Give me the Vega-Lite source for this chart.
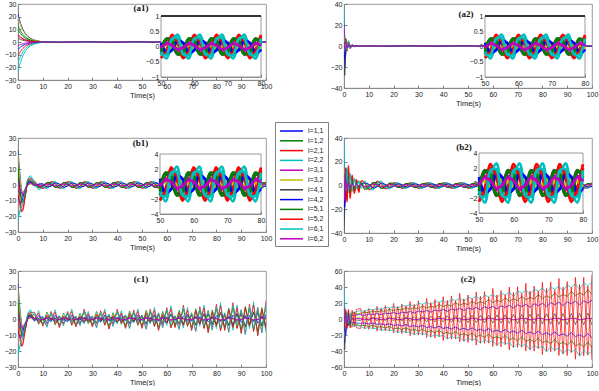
{
"$schema":"https://vega.github.io/schema/vega-lite/v6.json",
"padding":{"left":3,"top":-1,"right":0,"bottom":0},
"background":"white",
"config":{
 "view":{"stroke":"#808080","strokeWidth":0.8},
 "axis":{"labelFont":"Liberation Sans","labelFontSize":7,"labelColor":"#1a1a1a","titleFont":"Liberation Sans","titleFontSize":7.5,"titleFontWeight":"normal","titleColor":"#1a1a1a","titlePadding":2,"domainColor":"#808080","domainWidth":0.8,"tickColor":"#808080","tickSize":-3,"labelPadding":5,"grid":false,"labelFlush":false,"labelOverlap":false}
},
"datasets":{
"names":[{"n":1,"name":"i=1,1"},{"n":2,"name":"i=1,2"},{"n":3,"name":"i=2,1"},{"n":4,"name":"i=2,2"},{"n":5,"name":"i=3,1"},{"n":6,"name":"i=3,2"},{"n":7,"name":"i=4,1"},{"n":8,"name":"i=4,2"},{"n":9,"name":"i=5,1"},{"n":10,"name":"i=5,2"},{"n":11,"name":"i=6,1"},{"n":12,"name":"i=6,2"}],
"a1":[
{"t":0,"v":[22,13,-11,-24,6,20,3,-6,10,5,-17,-3]},
{"t":0.5,"v":[18,10.7,-9,-19.7,4.9,16.4,2.5,-4.9,8.2,4.1,-13.9,-2.5]},
{"t":1,"v":[14.7,8.7,-7.4,-16.1,4,13.4,2,-4,6.7,3.4,-11.4,-2]},
{"t":1.5,"v":[12.1,7.2,-6.1,-13.2,3.3,11,1.7,-3.3,5.5,2.8,-9.4,-1.7]},
{"t":2,"v":[9.9,5.9,-5,-10.8,2.7,9,1.4,-2.7,4.5,2.3,-7.7,-1.4]},
{"t":3,"v":[6.6,3.9,-3.3,-7.2,1.8,6,0.9,-1.8,3,1.5,-5.1,-0.9]},
{"t":4,"v":[4.4,2.6,-2.2,-4.8,1.2,4,0.6,-1.2,2,1,-3.4,-0.6]},
{"t":5,"v":[3,1.8,-1.5,-3.2,0.8,2.7,0.4,-0.8,1.4,0.7,-2.3,-0.4]},
{"t":6.5,"v":[1.6,1,-0.8,-1.8,0.4,1.5,0.2,-0.4,0.7,0.4,-1.3,-0.2]},
{"t":8,"v":[0.9,0.5,-0.4,-1,0.2,0.8,0.1,-0.2,0.4,0.2,-0.7,-0.1]},
{"t":10,"v":[0.07,-0.25,-0.38,-0.16,-0.02,0.08,-0.09,0.12,-0.17,-0.31,-0.26,-0.04]},
{"t":15,"v":[0.25,-0.21,0.1,0.39,-0.12,-0.03,-0.26,0.19,-0.25,0.18,0.27,-0.09]},
{"t":20,"v":[-0.07,0.25,0.38,0.16,0.02,-0.08,0.09,-0.12,0.17,0.31,0.26,0.04]},
{"t":25,"v":[-0.25,0.21,-0.1,-0.39,0.12,0.03,0.26,-0.19,0.25,-0.18,-0.27,0.09]},
{"t":30,"v":[0.07,-0.25,-0.38,-0.16,-0.02,0.08,-0.09,0.12,-0.17,-0.31,-0.26,-0.04]},
{"t":35,"v":[0.25,-0.21,0.1,0.39,-0.12,-0.03,-0.26,0.19,-0.25,0.18,0.27,-0.09]},
{"t":40,"v":[-0.07,0.25,0.38,0.16,0.02,-0.08,0.09,-0.12,0.17,0.31,0.26,0.04]},
{"t":45,"v":[-0.25,0.21,-0.1,-0.39,0.12,0.03,0.26,-0.19,0.25,-0.18,-0.27,0.09]},
{"t":50,"v":[0.07,-0.25,-0.38,-0.16,-0.02,0.08,-0.09,0.12,-0.17,-0.31,-0.26,-0.04]},
{"t":51.67,"v":[-0.25,0.21,-0.1,-0.39,0.12,0.03,0.26,-0.19,0.25,-0.18,-0.27,0.09]},
{"t":53.33,"v":[-0.07,0.25,0.38,0.16,0.02,-0.08,0.09,-0.12,0.17,0.31,0.26,0.04]},
{"t":55,"v":[0.25,-0.21,0.1,0.39,-0.12,-0.03,-0.26,0.19,-0.25,0.18,0.27,-0.09]},
{"t":56.67,"v":[0.07,-0.25,-0.38,-0.16,-0.02,0.08,-0.09,0.12,-0.17,-0.31,-0.26,-0.04]},
{"t":58.33,"v":[-0.25,0.21,-0.1,-0.39,0.12,0.03,0.26,-0.19,0.25,-0.18,-0.27,0.09]},
{"t":60,"v":[-0.07,0.25,0.38,0.16,0.02,-0.08,0.09,-0.12,0.17,0.31,0.26,0.04]},
{"t":61.67,"v":[0.25,-0.21,0.1,0.39,-0.12,-0.03,-0.26,0.19,-0.25,0.18,0.27,-0.09]},
{"t":63.33,"v":[0.07,-0.25,-0.38,-0.16,-0.02,0.08,-0.09,0.12,-0.17,-0.31,-0.26,-0.04]},
{"t":65,"v":[-0.25,0.21,-0.1,-0.39,0.12,0.03,0.26,-0.19,0.25,-0.18,-0.27,0.09]},
{"t":66.67,"v":[-0.07,0.25,0.38,0.16,0.02,-0.08,0.09,-0.12,0.17,0.31,0.26,0.04]},
{"t":68.33,"v":[0.25,-0.21,0.1,0.39,-0.12,-0.03,-0.26,0.19,-0.25,0.18,0.27,-0.09]},
{"t":70,"v":[0.07,-0.25,-0.38,-0.16,-0.02,0.08,-0.09,0.12,-0.17,-0.31,-0.26,-0.04]},
{"t":71.67,"v":[-0.25,0.21,-0.1,-0.39,0.12,0.03,0.26,-0.19,0.25,-0.18,-0.27,0.09]},
{"t":73.33,"v":[-0.07,0.25,0.38,0.16,0.02,-0.08,0.09,-0.12,0.17,0.31,0.26,0.04]},
{"t":75,"v":[0.25,-0.21,0.1,0.39,-0.12,-0.03,-0.26,0.19,-0.25,0.18,0.27,-0.09]},
{"t":76.67,"v":[0.07,-0.25,-0.38,-0.16,-0.02,0.08,-0.09,0.12,-0.17,-0.31,-0.26,-0.04]},
{"t":78.33,"v":[-0.25,0.21,-0.1,-0.39,0.12,0.03,0.26,-0.19,0.25,-0.18,-0.27,0.09]},
{"t":80,"v":[-0.07,0.25,0.38,0.16,0.02,-0.08,0.09,-0.12,0.17,0.31,0.26,0.04]},
{"t":85,"v":[-0.25,0.21,-0.1,-0.39,0.12,0.03,0.26,-0.19,0.25,-0.18,-0.27,0.09]},
{"t":90,"v":[0.07,-0.25,-0.38,-0.16,-0.02,0.08,-0.09,0.12,-0.17,-0.31,-0.26,-0.04]},
{"t":95,"v":[0.25,-0.21,0.1,0.39,-0.12,-0.03,-0.26,0.19,-0.25,0.18,0.27,-0.09]},
{"t":100,"v":[-0.07,0.25,0.38,0.16,0.02,-0.08,0.09,-0.12,0.17,0.31,0.26,0.04]}
],
"a2":[
{"t":0,"v":[-5,3,-2,38,22,-1,2,-6,4,1,10,-3]},
{"t":0.3,"v":[-20,5,1,10,8,1,-28,-12,5,4,4,2]},
{"t":0.7,"v":[-6,7,6,3,2,3,-8,-4,6,7,5,4]},
{"t":1.2,"v":[2,-3,-4,-2,-1,-1,1,1,-3,-5,-4,-2]},
{"t":1.8,"v":[1.5,4,4,3,1,1,0,-1,3,4,5,1.5]},
{"t":2.5,"v":[-1,-2,-2.5,-2,0,-0.5,0,0.5,-1.5,-2,-2,-0.5]},
{"t":3.3,"v":[0.5,1.2,1.5,1.5,0.3,0.4,0.3,-0.3,1,1.3,1.2,0.3]},
{"t":4.2,"v":[-0.2,-0.5,-0.6,-0.6,0,-0.2,0,0.2,-0.4,-0.5,-0.5,-0.1]},
{"t":5.5,"v":[0.1,0.2,0.2,0.2,0,0,0,0,0.1,0.2,0.2,0]},
{"t":10,"v":[0.07,-0.25,-0.38,-0.16,-0.02,0.08,-0.09,0.12,-0.17,-0.31,-0.26,-0.04]},
{"t":15,"v":[0.25,-0.21,0.1,0.39,-0.12,-0.03,-0.26,0.19,-0.25,0.18,0.27,-0.09]},
{"t":20,"v":[-0.07,0.25,0.38,0.16,0.02,-0.08,0.09,-0.12,0.17,0.31,0.26,0.04]},
{"t":25,"v":[-0.25,0.21,-0.1,-0.39,0.12,0.03,0.26,-0.19,0.25,-0.18,-0.27,0.09]},
{"t":30,"v":[0.07,-0.25,-0.38,-0.16,-0.02,0.08,-0.09,0.12,-0.17,-0.31,-0.26,-0.04]},
{"t":35,"v":[0.25,-0.21,0.1,0.39,-0.12,-0.03,-0.26,0.19,-0.25,0.18,0.27,-0.09]},
{"t":40,"v":[-0.07,0.25,0.38,0.16,0.02,-0.08,0.09,-0.12,0.17,0.31,0.26,0.04]},
{"t":45,"v":[-0.25,0.21,-0.1,-0.39,0.12,0.03,0.26,-0.19,0.25,-0.18,-0.27,0.09]},
{"t":50,"v":[0.07,-0.25,-0.38,-0.16,-0.02,0.08,-0.09,0.12,-0.17,-0.31,-0.26,-0.04]},
{"t":51.67,"v":[-0.25,0.21,-0.1,-0.39,0.12,0.03,0.26,-0.19,0.25,-0.18,-0.27,0.09]},
{"t":53.33,"v":[-0.07,0.25,0.38,0.16,0.02,-0.08,0.09,-0.12,0.17,0.31,0.26,0.04]},
{"t":55,"v":[0.25,-0.21,0.1,0.39,-0.12,-0.03,-0.26,0.19,-0.25,0.18,0.27,-0.09]},
{"t":56.67,"v":[0.07,-0.25,-0.38,-0.16,-0.02,0.08,-0.09,0.12,-0.17,-0.31,-0.26,-0.04]},
{"t":58.33,"v":[-0.25,0.21,-0.1,-0.39,0.12,0.03,0.26,-0.19,0.25,-0.18,-0.27,0.09]},
{"t":60,"v":[-0.07,0.25,0.38,0.16,0.02,-0.08,0.09,-0.12,0.17,0.31,0.26,0.04]},
{"t":61.67,"v":[0.25,-0.21,0.1,0.39,-0.12,-0.03,-0.26,0.19,-0.25,0.18,0.27,-0.09]},
{"t":63.33,"v":[0.07,-0.25,-0.38,-0.16,-0.02,0.08,-0.09,0.12,-0.17,-0.31,-0.26,-0.04]},
{"t":65,"v":[-0.25,0.21,-0.1,-0.39,0.12,0.03,0.26,-0.19,0.25,-0.18,-0.27,0.09]},
{"t":66.67,"v":[-0.07,0.25,0.38,0.16,0.02,-0.08,0.09,-0.12,0.17,0.31,0.26,0.04]},
{"t":68.33,"v":[0.25,-0.21,0.1,0.39,-0.12,-0.03,-0.26,0.19,-0.25,0.18,0.27,-0.09]},
{"t":70,"v":[0.07,-0.25,-0.38,-0.16,-0.02,0.08,-0.09,0.12,-0.17,-0.31,-0.26,-0.04]},
{"t":71.67,"v":[-0.25,0.21,-0.1,-0.39,0.12,0.03,0.26,-0.19,0.25,-0.18,-0.27,0.09]},
{"t":73.33,"v":[-0.07,0.25,0.38,0.16,0.02,-0.08,0.09,-0.12,0.17,0.31,0.26,0.04]},
{"t":75,"v":[0.25,-0.21,0.1,0.39,-0.12,-0.03,-0.26,0.19,-0.25,0.18,0.27,-0.09]},
{"t":76.67,"v":[0.07,-0.25,-0.38,-0.16,-0.02,0.08,-0.09,0.12,-0.17,-0.31,-0.26,-0.04]},
{"t":78.33,"v":[-0.25,0.21,-0.1,-0.39,0.12,0.03,0.26,-0.19,0.25,-0.18,-0.27,0.09]},
{"t":80,"v":[-0.07,0.25,0.38,0.16,0.02,-0.08,0.09,-0.12,0.17,0.31,0.26,0.04]},
{"t":85,"v":[-0.25,0.21,-0.1,-0.39,0.12,0.03,0.26,-0.19,0.25,-0.18,-0.27,0.09]},
{"t":90,"v":[0.07,-0.25,-0.38,-0.16,-0.02,0.08,-0.09,0.12,-0.17,-0.31,-0.26,-0.04]},
{"t":95,"v":[0.25,-0.21,0.1,0.39,-0.12,-0.03,-0.26,0.19,-0.25,0.18,0.27,-0.09]},
{"t":100,"v":[-0.07,0.25,0.38,0.16,0.02,-0.08,0.09,-0.12,0.17,0.31,0.26,0.04]}
],
"b1":[
{"t":0,"v":[22,14,5,-24,4,20,-3,-7,10,-6,-20,2]},
{"t":0.5,"v":[12,4,-4,-18,0,10,-5,-10,2,-10,-19,-1]},
{"t":1,"v":[3,-5,-12,-15,-4,2,-7,-12,-5,-15,-16,-4]},
{"t":1.5,"v":[-4,-10,-17,-14,-6,-3,-8,-11,-10,-17,-13,-5]},
{"t":2,"v":[-7,-11,-16,-11,-6,-5,-7,-8,-11,-15,-10,-5]},
{"t":3,"v":[-5,-6,-6,-4,-3,-3,-4,-3,-6,-6,-3,-2]},
{"t":4,"v":[1,2,2,3,0,0,1,1,2,3,4,0]},
{"t":5,"v":[2.5,2,4,6,1,0.5,2,2,3,4,5,1]},
{"t":6.67,"v":[0,1.5,2.5,1,0.1,-0.5,0.5,-0.5,1,2,1.5,0.3]},
{"t":8.33,"v":[0.5,-1.5,-0.5,-1.5,-0.7,-0.2,-1.5,0.5,-1.8,-0.5,-3,-0.5]},
{"t":10,"v":[0.4,-1.5,-2.2,-0.9,-0.1,0.5,-0.5,0.7,-1,-1.8,-1.5,-0.3]},
{"t":11.67,"v":[-1.4,1.2,-0.6,-2.3,0.7,0.2,1.5,-1.1,1.5,-1.1,-1.6,0.5]},
{"t":13.33,"v":[-0.4,1.5,2.2,0.9,0.1,-0.5,0.5,-0.7,1,1.8,1.5,0.3]},
{"t":15,"v":[1.4,-1.2,0.6,2.3,-0.7,-0.2,-1.5,1.1,-1.5,1.1,1.6,-0.5]},
{"t":16.67,"v":[0.4,-1.5,-2.2,-0.9,-0.1,0.5,-0.5,0.7,-1,-1.8,-1.5,-0.3]},
{"t":18.33,"v":[-1.4,1.2,-0.6,-2.3,0.7,0.2,1.5,-1.1,1.5,-1.1,-1.6,0.5]},
{"t":20,"v":[-0.4,1.5,2.2,0.9,0.1,-0.5,0.5,-0.7,1,1.8,1.5,0.3]},
{"t":21.67,"v":[1.4,-1.2,0.6,2.3,-0.7,-0.2,-1.5,1.1,-1.5,1.1,1.6,-0.5]},
{"t":23.33,"v":[0.4,-1.5,-2.2,-0.9,-0.1,0.5,-0.5,0.7,-1,-1.8,-1.5,-0.3]},
{"t":25,"v":[-1.4,1.2,-0.6,-2.3,0.7,0.2,1.5,-1.1,1.5,-1.1,-1.6,0.5]},
{"t":26.67,"v":[-0.4,1.5,2.2,0.9,0.1,-0.5,0.5,-0.7,1,1.8,1.5,0.3]},
{"t":28.33,"v":[1.4,-1.2,0.6,2.3,-0.7,-0.2,-1.5,1.1,-1.5,1.1,1.6,-0.5]},
{"t":30,"v":[0.4,-1.5,-2.2,-0.9,-0.1,0.5,-0.5,0.7,-1,-1.8,-1.5,-0.3]},
{"t":31.67,"v":[-1.4,1.2,-0.6,-2.3,0.7,0.2,1.5,-1.1,1.5,-1.1,-1.6,0.5]},
{"t":33.33,"v":[-0.4,1.5,2.2,0.9,0.1,-0.5,0.5,-0.7,1,1.8,1.5,0.3]},
{"t":35,"v":[1.4,-1.2,0.6,2.3,-0.7,-0.2,-1.5,1.1,-1.5,1.1,1.6,-0.5]},
{"t":36.67,"v":[0.4,-1.5,-2.2,-0.9,-0.1,0.5,-0.5,0.7,-1,-1.8,-1.5,-0.3]},
{"t":38.33,"v":[-1.4,1.2,-0.6,-2.3,0.7,0.2,1.5,-1.1,1.5,-1.1,-1.6,0.5]},
{"t":40,"v":[-0.4,1.5,2.2,0.9,0.1,-0.5,0.5,-0.7,1,1.8,1.5,0.3]},
{"t":41.67,"v":[1.4,-1.2,0.6,2.3,-0.7,-0.2,-1.5,1.1,-1.5,1.1,1.6,-0.5]},
{"t":43.33,"v":[0.4,-1.5,-2.2,-0.9,-0.1,0.5,-0.5,0.7,-1,-1.8,-1.5,-0.3]},
{"t":45,"v":[-1.4,1.2,-0.6,-2.3,0.7,0.2,1.5,-1.1,1.5,-1.1,-1.6,0.5]},
{"t":46.67,"v":[-0.4,1.5,2.2,0.9,0.1,-0.5,0.5,-0.7,1,1.8,1.5,0.3]},
{"t":48.33,"v":[1.4,-1.2,0.6,2.3,-0.7,-0.2,-1.5,1.1,-1.5,1.1,1.6,-0.5]},
{"t":50,"v":[0.4,-1.5,-2.2,-0.9,-0.1,0.5,-0.5,0.7,-1,-1.8,-1.5,-0.3]},
{"t":51.67,"v":[-1.4,1.2,-0.6,-2.3,0.7,0.2,1.5,-1.1,1.5,-1.1,-1.6,0.5]},
{"t":53.33,"v":[-0.4,1.5,2.2,0.9,0.1,-0.5,0.5,-0.7,1,1.8,1.5,0.3]},
{"t":55,"v":[1.4,-1.2,0.6,2.3,-0.7,-0.2,-1.5,1.1,-1.5,1.1,1.6,-0.5]},
{"t":56.67,"v":[0.4,-1.5,-2.2,-0.9,-0.1,0.5,-0.5,0.7,-1,-1.8,-1.5,-0.3]},
{"t":58.33,"v":[-1.4,1.2,-0.6,-2.3,0.7,0.2,1.5,-1.1,1.5,-1.1,-1.6,0.5]},
{"t":60,"v":[-0.4,1.5,2.2,0.9,0.1,-0.5,0.5,-0.7,1,1.8,1.5,0.3]},
{"t":61.67,"v":[1.4,-1.2,0.6,2.3,-0.7,-0.2,-1.5,1.1,-1.5,1.1,1.6,-0.5]},
{"t":63.33,"v":[0.4,-1.5,-2.2,-0.9,-0.1,0.5,-0.5,0.7,-1,-1.8,-1.5,-0.3]},
{"t":65,"v":[-1.4,1.2,-0.6,-2.3,0.7,0.2,1.5,-1.1,1.5,-1.1,-1.6,0.5]},
{"t":66.67,"v":[-0.4,1.5,2.2,0.9,0.1,-0.5,0.5,-0.7,1,1.8,1.5,0.3]},
{"t":68.33,"v":[1.4,-1.2,0.6,2.3,-0.7,-0.2,-1.5,1.1,-1.5,1.1,1.6,-0.5]},
{"t":70,"v":[0.4,-1.5,-2.2,-0.9,-0.1,0.5,-0.5,0.7,-1,-1.8,-1.5,-0.3]},
{"t":71.67,"v":[-1.4,1.2,-0.6,-2.3,0.7,0.2,1.5,-1.1,1.5,-1.1,-1.6,0.5]},
{"t":73.33,"v":[-0.4,1.5,2.2,0.9,0.1,-0.5,0.5,-0.7,1,1.8,1.5,0.3]},
{"t":75,"v":[1.4,-1.2,0.6,2.3,-0.7,-0.2,-1.5,1.1,-1.5,1.1,1.6,-0.5]},
{"t":76.67,"v":[0.4,-1.5,-2.2,-0.9,-0.1,0.5,-0.5,0.7,-1,-1.8,-1.5,-0.3]},
{"t":78.33,"v":[-1.4,1.2,-0.6,-2.3,0.7,0.2,1.5,-1.1,1.5,-1.1,-1.6,0.5]},
{"t":80,"v":[-0.4,1.5,2.2,0.9,0.1,-0.5,0.5,-0.7,1,1.8,1.5,0.3]},
{"t":81.67,"v":[1.4,-1.2,0.6,2.3,-0.7,-0.2,-1.5,1.1,-1.5,1.1,1.6,-0.5]},
{"t":83.33,"v":[0.4,-1.5,-2.2,-0.9,-0.1,0.5,-0.5,0.7,-1,-1.8,-1.5,-0.3]},
{"t":85,"v":[-1.4,1.2,-0.6,-2.3,0.7,0.2,1.5,-1.1,1.5,-1.1,-1.6,0.5]},
{"t":86.67,"v":[-0.4,1.5,2.2,0.9,0.1,-0.5,0.5,-0.7,1,1.8,1.5,0.3]},
{"t":88.33,"v":[1.4,-1.2,0.6,2.3,-0.7,-0.2,-1.5,1.1,-1.5,1.1,1.6,-0.5]},
{"t":90,"v":[0.4,-1.5,-2.2,-0.9,-0.1,0.5,-0.5,0.7,-1,-1.8,-1.5,-0.3]},
{"t":91.67,"v":[-1.4,1.2,-0.6,-2.3,0.7,0.2,1.5,-1.1,1.5,-1.1,-1.6,0.5]},
{"t":93.33,"v":[-0.4,1.5,2.2,0.9,0.1,-0.5,0.5,-0.7,1,1.8,1.5,0.3]},
{"t":95,"v":[1.4,-1.2,0.6,2.3,-0.7,-0.2,-1.5,1.1,-1.5,1.1,1.6,-0.5]},
{"t":96.67,"v":[0.4,-1.5,-2.2,-0.9,-0.1,0.5,-0.5,0.7,-1,-1.8,-1.5,-0.3]},
{"t":98.33,"v":[-1.4,1.2,-0.6,-2.3,0.7,0.2,1.5,-1.1,1.5,-1.1,-1.6,0.5]},
{"t":100,"v":[-0.4,1.5,2.2,0.9,0.1,-0.5,0.5,-0.7,1,1.8,1.5,0.3]}
],
"b2":[
{"t":0,"v":[-30,8,2,40,20,0,-38,-10,5,-5,25,10]},
{"t":0.3,"v":[-10,-12,-8,10,-15,-3,-20,-18,-5,-10,5,-12]},
{"t":0.7,"v":[5,10,14,-8,5,4,6,8,12,15,-5,6]},
{"t":1.2,"v":[-6,-9,-12,15,-4,-2,-5,-5,-10,-14,12,-3]},
{"t":1.8,"v":[4,12,17,-6,3,2,4,3,8,14,-4,2]},
{"t":2.5,"v":[-3,-7,-10,10,-2,-1,-2,-3,-6,-11,8,-2]},
{"t":3.3,"v":[2,6,9,-5,2,1,2,2,5,8,-3,1]},
{"t":4.2,"v":[-2,-5,-7,6,-1,-1,-2,-1,-4,-6,5,-1]},
{"t":5,"v":[1,4,5,-3,1,0.5,1,1,3,5,-2,1]},
{"t":6,"v":[-1,-4,-6,4,-1,0,-1,-1,-3,-5,4,-0.5]},
{"t":7,"v":[1,3,4,-2,0.5,0.3,1,1,2,4,-2,0.4]},
{"t":8.33,"v":[2,-3,2,4,-1,-0.3,-2,2,-3,2.5,3,-1]},
{"t":10,"v":[0.7,-2.4,-3.7,-1.5,-0.2,0.8,-0.8,1.1,-1.7,-3,-2.5,-0.5]},
{"t":11.67,"v":[-2.3,2,-0.9,-3.8,1.3,0.3,2.5,-1.8,2.4,-1.7,-2.6,1]},
{"t":13.33,"v":[-0.7,2.4,3.7,1.5,0.2,-0.8,0.8,-1.1,1.7,3,2.5,0.5]},
{"t":15,"v":[2.3,-2,0.9,3.8,-1.3,-0.3,-2.5,1.8,-2.4,1.7,2.6,-1]},
{"t":16.67,"v":[0.5,-1.9,-2.9,-1.2,-0.2,0.6,-0.7,0.9,-1.3,-2.4,-2,-0.4]},
{"t":18.33,"v":[-1.9,1.6,-0.7,-3.1,1,0.2,2,-1.4,1.9,-1.4,-2.1,0.8]},
{"t":20,"v":[-0.5,1.6,2.5,1,0.2,-0.5,0.6,-0.8,1.1,2,1.7,0.3]},
{"t":21.67,"v":[1.6,-1.4,0.6,2.6,-0.9,-0.2,-1.7,1.2,-1.6,1.2,1.8,-0.7]},
{"t":23.33,"v":[0.5,-1.6,-2.5,-1,-0.2,0.5,-0.6,0.8,-1.1,-2,-1.7,-0.3]},
{"t":25,"v":[-1.6,1.4,-0.6,-2.6,0.9,0.2,1.7,-1.2,1.6,-1.2,-1.8,0.7]},
{"t":26.67,"v":[-0.5,1.6,2.5,1,0.2,-0.5,0.6,-0.8,1.1,2,1.7,0.3]},
{"t":28.33,"v":[1.6,-1.4,0.6,2.6,-0.9,-0.2,-1.7,1.2,-1.6,1.2,1.8,-0.7]},
{"t":30,"v":[0.5,-1.6,-2.5,-1,-0.2,0.5,-0.6,0.8,-1.1,-2,-1.7,-0.3]},
{"t":31.67,"v":[-1.6,1.4,-0.6,-2.6,0.9,0.2,1.7,-1.2,1.6,-1.2,-1.8,0.7]},
{"t":33.33,"v":[-0.5,1.6,2.5,1,0.2,-0.5,0.6,-0.8,1.1,2,1.7,0.3]},
{"t":35,"v":[1.6,-1.4,0.6,2.6,-0.9,-0.2,-1.7,1.2,-1.6,1.2,1.8,-0.7]},
{"t":36.67,"v":[0.5,-1.6,-2.5,-1,-0.2,0.5,-0.6,0.8,-1.1,-2,-1.7,-0.3]},
{"t":38.33,"v":[-1.6,1.4,-0.6,-2.6,0.9,0.2,1.7,-1.2,1.6,-1.2,-1.8,0.7]},
{"t":40,"v":[-0.5,1.6,2.5,1,0.2,-0.5,0.6,-0.8,1.1,2,1.7,0.3]},
{"t":41.67,"v":[1.6,-1.4,0.6,2.6,-0.9,-0.2,-1.7,1.2,-1.6,1.2,1.8,-0.7]},
{"t":43.33,"v":[0.5,-1.6,-2.5,-1,-0.2,0.5,-0.6,0.8,-1.1,-2,-1.7,-0.3]},
{"t":45,"v":[-1.6,1.4,-0.6,-2.6,0.9,0.2,1.7,-1.2,1.6,-1.2,-1.8,0.7]},
{"t":46.67,"v":[-0.5,1.6,2.5,1,0.2,-0.5,0.6,-0.8,1.1,2,1.7,0.3]},
{"t":48.33,"v":[1.6,-1.4,0.6,2.6,-0.9,-0.2,-1.7,1.2,-1.6,1.2,1.8,-0.7]},
{"t":50,"v":[0.5,-1.6,-2.5,-1,-0.2,0.5,-0.6,0.8,-1.1,-2,-1.7,-0.3]},
{"t":51.67,"v":[-1.6,1.4,-0.6,-2.6,0.9,0.2,1.7,-1.2,1.6,-1.2,-1.8,0.7]},
{"t":53.33,"v":[-0.5,1.6,2.5,1,0.2,-0.5,0.6,-0.8,1.1,2,1.7,0.3]},
{"t":55,"v":[1.6,-1.4,0.6,2.6,-0.9,-0.2,-1.7,1.2,-1.6,1.2,1.8,-0.7]},
{"t":56.67,"v":[0.5,-1.6,-2.5,-1,-0.2,0.5,-0.6,0.8,-1.1,-2,-1.7,-0.3]},
{"t":58.33,"v":[-1.6,1.4,-0.6,-2.6,0.9,0.2,1.7,-1.2,1.6,-1.2,-1.8,0.7]},
{"t":60,"v":[-0.5,1.6,2.5,1,0.2,-0.5,0.6,-0.8,1.1,2,1.7,0.3]},
{"t":61.67,"v":[1.6,-1.4,0.6,2.6,-0.9,-0.2,-1.7,1.2,-1.6,1.2,1.8,-0.7]},
{"t":63.33,"v":[0.5,-1.6,-2.5,-1,-0.2,0.5,-0.6,0.8,-1.1,-2,-1.7,-0.3]},
{"t":65,"v":[-1.6,1.4,-0.6,-2.6,0.9,0.2,1.7,-1.2,1.6,-1.2,-1.8,0.7]},
{"t":66.67,"v":[-0.5,1.6,2.5,1,0.2,-0.5,0.6,-0.8,1.1,2,1.7,0.3]},
{"t":68.33,"v":[1.6,-1.4,0.6,2.6,-0.9,-0.2,-1.7,1.2,-1.6,1.2,1.8,-0.7]},
{"t":70,"v":[0.5,-1.6,-2.5,-1,-0.2,0.5,-0.6,0.8,-1.1,-2,-1.7,-0.3]},
{"t":71.67,"v":[-1.6,1.4,-0.6,-2.6,0.9,0.2,1.7,-1.2,1.6,-1.2,-1.8,0.7]},
{"t":73.33,"v":[-0.5,1.6,2.5,1,0.2,-0.5,0.6,-0.8,1.1,2,1.7,0.3]},
{"t":75,"v":[1.6,-1.4,0.6,2.6,-0.9,-0.2,-1.7,1.2,-1.6,1.2,1.8,-0.7]},
{"t":76.67,"v":[0.5,-1.6,-2.5,-1,-0.2,0.5,-0.6,0.8,-1.1,-2,-1.7,-0.3]},
{"t":78.33,"v":[-1.6,1.4,-0.6,-2.6,0.9,0.2,1.7,-1.2,1.6,-1.2,-1.8,0.7]},
{"t":80,"v":[-0.5,1.6,2.5,1,0.2,-0.5,0.6,-0.8,1.1,2,1.7,0.3]},
{"t":81.67,"v":[1.6,-1.4,0.6,2.6,-0.9,-0.2,-1.7,1.2,-1.6,1.2,1.8,-0.7]},
{"t":83.33,"v":[0.5,-1.6,-2.5,-1,-0.2,0.5,-0.6,0.8,-1.1,-2,-1.7,-0.3]},
{"t":85,"v":[-1.6,1.4,-0.6,-2.6,0.9,0.2,1.7,-1.2,1.6,-1.2,-1.8,0.7]},
{"t":86.67,"v":[-0.5,1.6,2.5,1,0.2,-0.5,0.6,-0.8,1.1,2,1.7,0.3]},
{"t":88.33,"v":[1.6,-1.4,0.6,2.6,-0.9,-0.2,-1.7,1.2,-1.6,1.2,1.8,-0.7]},
{"t":90,"v":[0.5,-1.6,-2.5,-1,-0.2,0.5,-0.6,0.8,-1.1,-2,-1.7,-0.3]},
{"t":91.67,"v":[-1.6,1.4,-0.6,-2.6,0.9,0.2,1.7,-1.2,1.6,-1.2,-1.8,0.7]},
{"t":93.33,"v":[-0.5,1.6,2.5,1,0.2,-0.5,0.6,-0.8,1.1,2,1.7,0.3]},
{"t":95,"v":[1.6,-1.4,0.6,2.6,-0.9,-0.2,-1.7,1.2,-1.6,1.2,1.8,-0.7]},
{"t":96.67,"v":[0.5,-1.6,-2.5,-1,-0.2,0.5,-0.6,0.8,-1.1,-2,-1.7,-0.3]},
{"t":98.33,"v":[-1.6,1.4,-0.6,-2.6,0.9,0.2,1.7,-1.2,1.6,-1.2,-1.8,0.7]},
{"t":100,"v":[-0.5,1.6,2.5,1,0.2,-0.5,0.6,-0.8,1.1,2,1.7,0.3]}
],
"c1":[
{"t":0,"v":[22,14,5,-24,4,20,-3,-7,10,-6,-20,2]},
{"t":0.5,"v":[12,4,-4,-18,0,10,-5,-10,2,-10,-19,-1]},
{"t":1,"v":[3,-5,-12,-15,-4,2,-7,-12,-5,-15,-16,-4]},
{"t":1.5,"v":[-4,-10,-17,-14,-6,-3,-8,-11,-10,-17,-13,-5]},
{"t":2,"v":[-7,-11,-16,-11,-6,-5,-7,-8,-11,-15,-10,-5]},
{"t":3,"v":[-5,-6,-6,-4,-3,-3,-4,-3,-6,-6,-3,-2]},
{"t":4,"v":[1,2,2,3,0,0,1,1,2,3,4,0]},
{"t":5,"v":[2.5,2,4,6,1,0.5,2,2,3,4,5,1]},
{"t":6.67,"v":[0.3,2.9,4.2,-1.1,0.1,-0.5,0.5,-1.4,-0.4,0,3.3,0.3]},
{"t":8.33,"v":[0.4,-3.3,-2.4,5.3,-0.7,-0.2,-1.5,2.2,0.6,3.8,-1.1,-0.5]},
{"t":10,"v":[1.5,0.6,0.8,-3.9,-0.1,0.5,-0.5,-0.4,-3.1,-4.5,1.2,-0.3]},
{"t":11.67,"v":[-2.8,-1.6,-4.6,1.7,0.7,0.2,1.5,0.3,4.3,2.5,-5.2,0.5]},
{"t":13.33,"v":[0.5,3.3,4.7,-1.6,0.1,-0.5,0.5,-1.6,-0.8,-0.5,3.8,0.3]},
{"t":15,"v":[0.2,-3.7,-2.9,5.8,-0.7,-0.2,-1.5,2.3,1,4.3,-1.6,-0.5]},
{"t":16.67,"v":[1.8,1.3,1.8,-4.9,-0.1,0.5,-0.5,-0.7,-3.8,-5.4,2.1,-0.3]},
{"t":18.33,"v":[-2.5,-0.9,-3.6,0.7,0.7,0.2,1.5,0,3.6,1.6,-4.3,0.5]},
{"t":20,"v":[0.5,3.3,4.7,-1.6,0.1,-0.5,0.5,-1.6,-0.8,-0.5,3.8,0.3]},
{"t":21.67,"v":[0,-4,-3.4,6.3,-0.7,-0.2,-1.5,2.5,1.3,4.7,-2,-0.5]},
{"t":23.33,"v":[1.6,1,1.3,-4.4,-0.1,0.5,-0.5,-0.5,-3.5,-5,1.7,-0.3]},
{"t":25,"v":[-2.5,-0.9,-3.6,0.7,0.7,0.2,1.5,0,3.6,1.6,-4.3,0.5]},
{"t":26.67,"v":[1,4.3,6.2,-3.1,0.1,-0.5,0.5,-2.1,-1.8,-1.8,5.1,0.3]},
{"t":28.33,"v":[0.5,-3,-1.9,4.8,-0.7,-0.2,-1.5,2,0.3,3.4,-0.7,-0.5]},
{"t":30,"v":[1.6,1,1.3,-4.4,-0.1,0.5,-0.5,-0.5,-3.5,-5,1.7,-0.3]},
{"t":31.67,"v":[-3,-2,-5.1,2.2,0.7,0.2,1.5,0.5,4.7,3,-5.7,0.5]},
{"t":33.33,"v":[0.7,3.6,5.2,-2.1,0.1,-0.5,0.5,-1.8,-1.1,-0.9,4.2,0.3]},
{"t":35,"v":[0,-4,-3.4,6.3,-0.7,-0.2,-1.5,2.5,1.3,4.7,-2,-0.5]},
{"t":36.67,"v":[2.2,2,2.8,-5.9,-0.1,0.5,-0.5,-1.1,-4.5,-6.3,3,-0.3]},
{"t":38.33,"v":[-2.6,-1.3,-4.1,1.2,0.7,0.2,1.5,0.1,4,2.1,-4.8,0.5]},
{"t":40,"v":[1,4.3,6.2,-3.1,0.1,-0.5,0.5,-2.1,-1.8,-1.8,5.1,0.3]},
{"t":41.67,"v":[0.4,-3.3,-2.4,5.3,-0.7,-0.2,-1.5,2.2,0.6,3.8,-1.1,-0.5]},
{"t":43.33,"v":[2,1.7,2.3,-5.4,-0.1,0.5,-0.5,-0.9,-4.2,-5.9,2.6,-0.3]},
{"t":45,"v":[-3.2,-2.3,-5.6,2.7,0.7,0.2,1.5,0.7,5,3.4,-6.1,0.5]},
{"t":46.67,"v":[0.8,4,5.7,-2.6,0.1,-0.5,0.5,-1.9,-1.5,-1.4,4.7,0.3]},
{"t":48.33,"v":[0,-4,-3.4,6.3,-0.7,-0.2,-1.5,2.5,1.3,4.7,-2,-0.5]},
{"t":50,"v":[2,1.7,2.3,-5.4,-0.1,0.5,-0.5,-0.9,-4.2,-5.9,2.6,-0.3]},
{"t":51.67,"v":[-3.3,-2.7,-6.1,3.2,0.7,0.2,1.5,0.8,5.4,3.9,-6.6,0.5]},
{"t":53.33,"v":[1,4.3,6.2,-3.1,0.1,-0.5,0.5,-2.1,-1.8,-1.8,5.1,0.3]},
{"t":55,"v":[-0.4,-4.7,-4.4,7.3,-0.7,-0.2,-1.5,2.9,2,5.6,-2.9,-0.5]},
{"t":56.67,"v":[2.5,2.7,3.8,-6.9,-0.1,0.5,-0.5,-1.4,-5.2,-7.2,3.9,-0.3]},
{"t":58.33,"v":[-3,-2,-5.1,2.2,0.7,0.2,1.5,0.5,4.7,3,-5.7,0.5]},
{"t":60,"v":[1.4,5,7.2,-4.1,0.1,-0.5,0.5,-2.5,-2.5,-2.7,6,0.3]},
{"t":61.67,"v":[-0.7,-5.4,-5.4,8.3,-0.7,-0.2,-1.5,3.2,2.7,6.5,-3.8,-0.5]},
{"t":63.33,"v":[1.8,1.3,1.8,-4.9,-0.1,0.5,-0.5,-0.7,-3.8,-5.4,2.1,-0.3]},
{"t":65,"v":[-3.3,-2.7,-6.1,3.2,0.7,0.2,1.5,0.8,5.4,3.9,-6.6,0.5]},
{"t":66.67,"v":[1.9,6.1,8.7,-5.6,0.1,-0.5,0.5,-3,-3.6,-4.1,7.4,0.3]},
{"t":68.33,"v":[-0.4,-4.7,-4.4,7.3,-0.7,-0.2,-1.5,2.9,2,5.6,-2.9,-0.5]},
{"t":70,"v":[2.5,2.7,3.8,-6.9,-0.1,0.5,-0.5,-1.4,-5.2,-7.2,3.9,-0.3]},
{"t":71.67,"v":[-3.9,-3.7,-7.6,4.7,0.7,0.2,1.5,1.4,6.4,5.2,-7.9,0.5]},
{"t":73.33,"v":[1.5,5.4,7.7,-4.6,0.1,-0.5,0.5,-2.6,-2.9,-3.2,6.5,0.3]},
{"t":75,"v":[-0.9,-5.8,-5.9,8.8,-0.7,-0.2,-1.5,3.4,3.1,7,-4.3,-0.5]},
{"t":76.67,"v":[3,3.8,5.3,-8.4,-0.1,0.5,-0.5,-1.9,-6.3,-8.6,5.3,-0.3]},
{"t":78.33,"v":[-3.5,-3,-6.6,3.7,0.7,0.2,1.5,1,5.7,4.3,-7,0.5]},
{"t":80,"v":[2.1,6.4,9.2,-6.1,0.1,-0.5,0.5,-3.2,-3.9,-4.5,7.8,0.3]},
{"t":81.67,"v":[-1.4,-6.8,-7.4,10.3,-0.7,-0.2,-1.5,3.9,4.1,8.3,-5.6,-0.5]},
{"t":83.33,"v":[2.5,2.7,3.8,-6.9,-0.1,0.5,-0.5,-1.4,-5.2,-7.2,3.9,-0.3]},
{"t":85,"v":[-4,-4.1,-8.1,5.2,0.7,0.2,1.5,1.5,6.8,5.7,-8.4,0.5]},
{"t":86.67,"v":[2.4,7.1,10.2,-7.1,0.1,-0.5,0.5,-3.5,-4.6,-5.4,8.7,0.3]},
{"t":88.33,"v":[-0.9,-5.8,-5.9,8.8,-0.7,-0.2,-1.5,3.4,3.1,7,-4.3,-0.5]},
{"t":90,"v":[3.2,4.1,5.8,-8.9,-0.1,0.5,-0.5,-2.1,-6.6,-9,5.7,-0.3]},
{"t":91.67,"v":[-4.6,-5.1,-9.6,6.7,0.7,0.2,1.5,2.1,7.8,7,-9.7,0.5]},
{"t":93.33,"v":[2.1,6.4,9.2,-6.1,0.1,-0.5,0.5,-3.2,-3.9,-4.5,7.8,0.3]},
{"t":95,"v":[-1.6,-7.2,-7.9,10.8,-0.7,-0.2,-1.5,4.1,4.5,8.8,-6.1,-0.5]},
{"t":96.67,"v":[3.7,5.2,7.3,-10.4,-0.1,0.5,-0.5,-2.6,-7.7,-10.4,7.1,-0.3]},
{"t":98.33,"v":[-4.2,-4.4,-8.6,5.7,0.7,0.2,1.5,1.7,7.1,6.1,-8.8,0.5]},
{"t":100,"v":[2.8,7.8,11.2,-8.1,0.1,-0.5,0.5,-3.9,-5.3,-6.3,9.6,0.3]}
],
"c2":[
{"t":0,"v":[-25,6,3,38,22,0,-20,-8,5,-3,30,15]},
{"t":0.3,"v":[-30,-5,-8,15,5,-3,-38,-15,-6,-10,8,-5]},
{"t":0.7,"v":[-12,8,10,-5,10,3,-10,-20,8,12,-8,6]},
{"t":1.2,"v":[5,-6,-10,8,-8,-2,5,-10,-7,-12,6,-5]},
{"t":1.8,"v":[-8,9,12,-4,6,2,-4,-6,8,11,-6,4]},
{"t":2.5,"v":[4,-7,-11,7,-4,-2,3,-4,-9,-10,7,-3]},
{"t":3.3,"v":[5,8,11,9,2,2,-1,-5,-7,-10,-8,1]},
{"t":4.2,"v":[4,7,-10,8,-1,-2,1,-4,-6,9,-9,-1]},
{"t":5,"v":[5,6,12,9,0.5,2,-1.5,-5,-7,-11,-8,0.5]},
{"t":6.67,"v":[5.4,7.1,13.2,10.7,0.2,2,-1.8,-5.4,-8.3,-11.9,-9.3,0.5]},
{"t":8.33,"v":[4.5,8.4,-11.9,9.4,-1,-2,1.9,-5,-7.9,10.8,-11.9,-0.8]},
{"t":10,"v":[6.1,7.9,13.2,12,-0.2,2,-2,-6.1,-9.2,-12.9,-10.4,-0.5]},
{"t":11.67,"v":[5.6,10.1,-12.2,11.5,1,-2,2.1,-5,-7.9,11.6,-12.1,0.8]},
{"t":13.33,"v":[6.7,8.8,15.8,13.3,0.2,2,-2.2,-6.7,-10.2,-15.2,-11.5,0.5]},
{"t":15,"v":[5.5,10.3,-14.2,11.5,-1,-2,2.3,-6.1,-9.6,13.5,-14.5,-0.8]},
{"t":16.67,"v":[7.4,9.6,16.8,14.6,-0.2,2,-2.4,-7.4,-11.2,-14.9,-12.6,-0.5]},
{"t":18.33,"v":[6.7,12.2,-15,13.9,1,-2,2.5,-6,-9.5,13.7,-14.5,0.8]},
{"t":20,"v":[8,10.4,19.5,15.8,0.2,2,-2.6,-8,-12.2,-17.5,-13.7,0.5]},
{"t":21.67,"v":[6.5,12.1,-17.2,13.6,-1,-2,2.7,-7.2,-11.4,15.7,-17.2,-0.8]},
{"t":23.33,"v":[8.6,11.3,18.8,17.1,-0.2,2,-2.8,-8.6,-13.2,-18.4,-14.9,-0.5]},
{"t":25,"v":[7.8,14.2,-17.2,16.2,1,-2,2.9,-7,-11.1,16.3,-17,0.8]},
{"t":26.67,"v":[9.3,12.1,21.8,18.4,0.2,2,-3,-9.3,-14.1,-21,-16,0.5]},
{"t":28.33,"v":[7.5,14,-19.4,15.7,-1,-2,3.1,-8.4,-13.2,18.5,-19.9,-0.8]},
{"t":30,"v":[9.9,13,22.7,19.7,-0.2,2,-3.2,-9.9,-15.1,-20.1,-17.1,-0.5]},
{"t":31.67,"v":[8.9,16.3,-20.1,18.5,1,-2,3.3,-8,-12.7,18.3,-19.4,0.8]},
{"t":33.33,"v":[10.6,13.8,25.8,20.9,0.2,2,-3.5,-10.6,-16.1,-23.1,-18.2,0.5]},
{"t":35,"v":[8.5,15.9,-22.5,17.8,-1,-2,3.6,-9.5,-14.9,20.5,-22.5,-0.8]},
{"t":36.67,"v":[11.2,14.6,24.4,22.2,-0.2,2,-3.7,-11.2,-17.1,-23.8,-19.3,-0.5]},
{"t":38.33,"v":[10,18.3,-22.1,20.8,1,-2,3.8,-9,-14.3,21,-21.8,0.8]},
{"t":40,"v":[11.9,15.5,27.9,23.5,0.2,2,-3.9,-11.9,-18.1,-26.9,-20.4,0.5]},
{"t":41.67,"v":[9.5,17.8,-24.6,19.9,-1,-2,4,-10.6,-16.7,23.4,-25.2,-0.8]},
{"t":43.33,"v":[12.5,16.3,28.6,24.8,-0.2,2,-4.1,-12.5,-19,-25.3,-21.5,-0.5]},
{"t":45,"v":[11.2,20.4,-25.1,23.2,1,-2,4.2,-10,-15.9,22.8,-24.3,0.8]},
{"t":46.67,"v":[13.2,17.2,32,26,0.2,2,-4.3,-13.2,-20,-28.7,-22.6,0.5]},
{"t":48.33,"v":[10.5,19.6,-27.8,22,-1,-2,4.4,-11.7,-18.5,25.3,-27.8,-0.8]},
{"t":50,"v":[13.8,18,30,27.3,-0.2,2,-4.5,-13.8,-21,-29.3,-23.7,-0.5]},
{"t":51.67,"v":[12.3,22.4,-27,25.5,1,-2,4.6,-11.1,-17.5,25.7,-26.7,0.8]},
{"t":53.33,"v":[14.4,18.8,33.9,28.6,0.2,2,-4.7,-14.4,-22,-32.7,-24.8,0.5]},
{"t":55,"v":[11.6,21.5,-29.9,24.1,-1,-2,4.8,-12.8,-20.2,28.4,-30.5,-0.8]},
{"t":56.67,"v":[15.1,19.7,34.4,29.8,-0.2,2,-4.9,-15.1,-23,-30.5,-25.9,-0.5]},
{"t":58.33,"v":[13.4,24.5,-30.2,27.8,1,-2,5,-12.1,-19.1,27.4,-29.1,0.8]},
{"t":60,"v":[15.7,20.5,38.3,31.1,0.2,2,-5.1,-15.7,-23.9,-34.4,-27,0.5]},
{"t":61.67,"v":[12.6,23.4,-33.2,26.2,-1,-2,5.2,-14,-22,30.2,-33.2,-0.8]},
{"t":63.33,"v":[16.4,21.4,35.6,32.4,-0.2,2,-5.3,-16.4,-24.9,-34.8,-28.1,-0.5]},
{"t":65,"v":[14.5,26.5,-31.9,30.1,1,-2,5.4,-13.1,-20.7,30.4,-31.6,0.8]},
{"t":66.67,"v":[17,22.2,40,33.7,0.2,2,-5.6,-17,-25.9,-38.5,-29.2,0.5]},
{"t":68.33,"v":[13.6,25.3,-35.1,28.3,-1,-2,5.7,-15.1,-23.8,33.3,-35.8,-0.8]},
{"t":70,"v":[17.7,23,40.3,34.9,-0.2,2,-5.8,-17.7,-26.9,-35.7,-30.3,-0.5]},
{"t":71.67,"v":[15.6,28.5,-35.2,32.5,1,-2,5.9,-14.1,-22.3,32,-34,0.8]},
{"t":73.33,"v":[18.3,23.9,44.6,36.2,0.2,2,-6,-18.3,-27.9,-40,-31.4,0.5]},
{"t":75,"v":[14.6,27.1,-38.5,30.4,-1,-2,6.1,-16.2,-25.5,35,-38.5,-0.8]},
{"t":76.67,"v":[19,24.7,41.2,37.5,-0.2,2,-6.2,-19,-28.8,-40.2,-32.5,-0.5]},
{"t":78.33,"v":[16.8,30.6,-36.9,34.8,1,-2,6.3,-15.1,-23.9,35.1,-36.5,0.8]},
{"t":80,"v":[19.6,25.6,46,38.8,0.2,2,-6.4,-19.6,-29.8,-44.4,-33.7,0.5]},
{"t":81.67,"v":[15.6,29,-40.3,32.5,-1,-2,6.5,-17.3,-27.3,38.3,-41.1,-0.8]},
{"t":83.33,"v":[20.2,26.4,46.2,40,-0.2,2,-6.6,-20.2,-30.8,-40.9,-34.8,-0.5]},
{"t":85,"v":[17.9,32.6,-40.2,37.1,1,-2,6.7,-16.1,-25.5,36.6,-38.9,0.8]},
{"t":86.67,"v":[20.9,27.2,50.8,41.3,0.2,2,-6.8,-20.9,-31.8,-45.6,-35.9,0.5]},
{"t":88.33,"v":[16.6,30.9,-43.8,34.6,-1,-2,6.9,-18.4,-29,39.9,-43.8,-0.8]},
{"t":90,"v":[21.5,28.1,46.8,42.6,-0.2,2,-7,-21.5,-32.8,-45.7,-37,-0.5]},
{"t":91.67,"v":[19,34.7,-41.8,39.4,1,-2,7.1,-17.1,-27.1,39.8,-41.3,0.8]},
{"t":93.33,"v":[22.2,28.9,52.1,43.9,0.2,2,-7.2,-22.2,-33.7,-50.2,-38.1,0.5]},
{"t":95,"v":[17.6,32.8,-45.5,36.7,-1,-2,7.3,-19.6,-30.8,43.2,-46.5,-0.8]},
{"t":96.67,"v":[22.8,29.8,52.1,45.1,-0.2,2,-7.4,-22.8,-34.7,-46.1,-39.2,-0.5]},
{"t":98.33,"v":[20.1,36.7,-45.3,41.7,1,-2,7.5,-18.1,-28.7,41.2,-43.8,0.8]},
{"t":100,"v":[23.5,30.6,55,46.4,0.2,2,-7.7,-23.5,-35.7,-51.2,-40.3,0.5]}
]
},
"spacing":14,
"resolve":{"scale":{"color":"independent"},"legend":{"color":"independent"}},
"vconcat":[
{"hconcat":[
 {"width":248,"height":76,
  "layer":[
   {"layer":[
     {"data":{"name":"a1"},"transform":[{"flatten":["v"]},{"window":[{"op":"row_number","as":"n"}],"groupby":["t"]},{"lookup":"n","from":{"data":{"name":"names"},"key":"n","fields":["name"]}}],
      "mark":{"type":"line","strokeWidth":0.9,"interpolate":"catmull-rom","clip":true},
      "encoding":{"x":{"field":"t","type":"quantitative","scale":{"domain":[0,100],"nice":false,"zero":false},"axis":{"orient":"bottom","values":[0,10,20,30,40,50,60,70,80,90,100],"labelOverlap":false,"title":"Time(s)"}},
       "y":{"field":"v","type":"quantitative","scale":{"domain":[-30,30],"nice":false,"zero":false},"axis":{"orient":"left","values":[-30,-20,-10,0,10,20,30],"labelOverlap":false,"title":null}},
       "color":{"field":"name","type":"nominal","scale":{"domain":["i=1,1","i=1,2","i=2,1","i=2,2","i=3,1","i=3,2","i=4,1","i=4,2","i=5,1","i=5,2","i=6,1","i=6,2"],"range":["#0000ff","#008000","#ff0000","#00bfbf","#bf00bf","#bfbf00","#404040","#0000ff","#008000","#ff0000","#00bfbf","#bf00bf"]},"legend":null}}},
     {"data":{"values":[{}]},"mark":{"type":"text","font":"Liberation Serif","fontSize":9,"fontWeight":"bold","color":"#111"},"encoding":{
       "x":{"datum":49.6,"type":"quantitative","scale":{"domain":[0,100],"nice":false,"zero":false},"axis":{"orient":"bottom","values":[0,10,20,30,40,50,60,70,80,90,100],"labelOverlap":false,"title":"Time(s)"}},
       "y":{"datum":26.8,"type":"quantitative","scale":{"domain":[-30,30],"nice":false,"zero":false},"axis":{"orient":"left","values":[-30,-20,-10,0,10,20,30],"labelOverlap":false,"title":null}},
       "text":{"value":"(a1)"}}}
   ]},
   {"layer":[
     {"data":{"values":[{}]},"mark":{"type":"rect","fill":"white","stroke":"#808080","strokeWidth":0.8},"encoding":{
       "x":{"datum":50,"type":"quantitative","scale":{"domain":[50,80],"range":[143,243],"nice":false,"zero":false},"axis":{"orient":"bottom","offset":-3,"values":[50,60,70,80],"labelOverlap":false,"title":null}},"x2":{"datum":80},
       "y":{"datum":-1,"type":"quantitative","scale":{"domain":[-1,1],"range":[73,12],"nice":false,"zero":false},"axis":{"orient":"left","offset":-143,"values":[-1,-0.5,0,0.5,1],"format":"~g","labelOverlap":false,"title":null}},"y2":{"datum":1}}},
     {"data":{"name":"a1"},"transform":[{"filter":{"field":"t","range":[50,80]}},{"flatten":["v"]},{"window":[{"op":"row_number","as":"n"}],"groupby":["t"]},{"lookup":"n","from":{"data":{"name":"names"},"key":"n","fields":["name"]}}],
      "mark":{"type":"line","strokeWidth":2.8,"interpolate":"catmull-rom"},
      "encoding":{"x":{"field":"t","type":"quantitative","scale":{"domain":[50,80],"range":[143,243],"nice":false,"zero":false},"axis":{"orient":"bottom","offset":-3,"values":[50,60,70,80],"labelOverlap":false,"title":null}},
       "y":{"field":"v","type":"quantitative","scale":{"domain":[-1,1],"range":[73,12],"nice":false,"zero":false},"axis":{"orient":"left","offset":-143,"values":[-1,-0.5,0,0.5,1],"format":"~g","labelOverlap":false,"title":null}},
       "color":{"field":"name","type":"nominal","scale":{"domain":["i=1,1","i=1,2","i=2,1","i=2,2","i=3,1","i=3,2","i=4,1","i=4,2","i=5,1","i=5,2","i=6,1","i=6,2"],"range":["#0000ff","#008000","#ff0000","#00bfbf","#bf00bf","#bfbf00","#404040","#0000ff","#008000","#ff0000","#00bfbf","#bf00bf"]},"legend":null}}},
     {"data":{"values":[{}]},"mark":{"type":"rule","color":"black","strokeWidth":1.6},"encoding":{
       "x":{"datum":50,"type":"quantitative","scale":{"domain":[50,80],"range":[143,243],"nice":false,"zero":false},"axis":{"orient":"bottom","offset":-3,"values":[50,60,70,80],"labelOverlap":false,"title":null}},"x2":{"datum":80},
       "y":{"datum":1,"type":"quantitative","scale":{"domain":[-1,1],"range":[73,12],"nice":false,"zero":false},"axis":{"orient":"left","offset":-143,"values":[-1,-0.5,0,0.5,1],"format":"~g","labelOverlap":false,"title":null}}}}
   ]}
  ],
  "resolve":{"scale":{"x":"independent","y":"independent"},"axis":{"x":"independent","y":"independent"}}
 },
 {"width":248,"height":84,
  "layer":[
   {"layer":[
     {"data":{"name":"a2"},"transform":[{"flatten":["v"]},{"window":[{"op":"row_number","as":"n"}],"groupby":["t"]},{"lookup":"n","from":{"data":{"name":"names"},"key":"n","fields":["name"]}}],
      "mark":{"type":"line","strokeWidth":0.9,"interpolate":"catmull-rom","clip":true},
      "encoding":{"x":{"field":"t","type":"quantitative","scale":{"domain":[0,100],"nice":false,"zero":false},"axis":{"orient":"bottom","values":[0,10,20,30,40,50,60,70,80,90,100],"labelOverlap":false,"title":"Time(s)"}},
       "y":{"field":"v","type":"quantitative","scale":{"domain":[-40,40],"nice":false,"zero":false},"axis":{"orient":"left","values":[-40,-20,0,20,40],"labelOverlap":false,"title":null}},
       "color":{"field":"name","type":"nominal","scale":{"domain":["i=1,1","i=1,2","i=2,1","i=2,2","i=3,1","i=3,2","i=4,1","i=4,2","i=5,1","i=5,2","i=6,1","i=6,2"],"range":["#0000ff","#008000","#ff0000","#00bfbf","#bf00bf","#bfbf00","#404040","#0000ff","#008000","#ff0000","#00bfbf","#bf00bf"]},"legend":null}}},
     {"data":{"values":[{}]},"mark":{"type":"text","font":"Liberation Serif","fontSize":9,"fontWeight":"bold","color":"#111"},"encoding":{
       "x":{"datum":49.2,"type":"quantitative","scale":{"domain":[0,100],"nice":false,"zero":false},"axis":{"orient":"bottom","values":[0,10,20,30,40,50,60,70,80,90,100],"labelOverlap":false,"title":"Time(s)"}},
       "y":{"datum":30.5,"type":"quantitative","scale":{"domain":[-40,40],"nice":false,"zero":false},"axis":{"orient":"left","values":[-40,-20,0,20,40],"labelOverlap":false,"title":null}},
       "text":{"value":"(a2)"}}}
   ]},
   {"layer":[
     {"data":{"values":[{}]},"mark":{"type":"rect","fill":"white","stroke":"#808080","strokeWidth":0.8},"encoding":{
       "x":{"datum":50,"type":"quantitative","scale":{"domain":[50,80],"range":[141,241],"nice":false,"zero":false},"axis":{"orient":"bottom","offset":-11,"values":[50,60,70,80],"labelOverlap":false,"title":null}},"x2":{"datum":80},
       "y":{"datum":-1,"type":"quantitative","scale":{"domain":[-1,1],"range":[73,12],"nice":false,"zero":false},"axis":{"orient":"left","offset":-141,"values":[-1,-0.5,0,0.5,1],"format":"~g","labelOverlap":false,"title":null}},"y2":{"datum":1}}},
     {"data":{"name":"a2"},"transform":[{"filter":{"field":"t","range":[50,80]}},{"flatten":["v"]},{"window":[{"op":"row_number","as":"n"}],"groupby":["t"]},{"lookup":"n","from":{"data":{"name":"names"},"key":"n","fields":["name"]}}],
      "mark":{"type":"line","strokeWidth":2.8,"interpolate":"catmull-rom"},
      "encoding":{"x":{"field":"t","type":"quantitative","scale":{"domain":[50,80],"range":[141,241],"nice":false,"zero":false},"axis":{"orient":"bottom","offset":-11,"values":[50,60,70,80],"labelOverlap":false,"title":null}},
       "y":{"field":"v","type":"quantitative","scale":{"domain":[-1,1],"range":[73,12],"nice":false,"zero":false},"axis":{"orient":"left","offset":-141,"values":[-1,-0.5,0,0.5,1],"format":"~g","labelOverlap":false,"title":null}},
       "color":{"field":"name","type":"nominal","scale":{"domain":["i=1,1","i=1,2","i=2,1","i=2,2","i=3,1","i=3,2","i=4,1","i=4,2","i=5,1","i=5,2","i=6,1","i=6,2"],"range":["#0000ff","#008000","#ff0000","#00bfbf","#bf00bf","#bfbf00","#404040","#0000ff","#008000","#ff0000","#00bfbf","#bf00bf"]},"legend":null}}},
     {"data":{"values":[{}]},"mark":{"type":"rule","color":"black","strokeWidth":1.6},"encoding":{
       "x":{"datum":50,"type":"quantitative","scale":{"domain":[50,80],"range":[141,241],"nice":false,"zero":false},"axis":{"orient":"bottom","offset":-11,"values":[50,60,70,80],"labelOverlap":false,"title":null}},"x2":{"datum":80},
       "y":{"datum":1,"type":"quantitative","scale":{"domain":[-1,1],"range":[73,12],"nice":false,"zero":false},"axis":{"orient":"left","offset":-141,"values":[-1,-0.5,0,0.5,1],"format":"~g","labelOverlap":false,"title":null}}}}
   ]}
  ],
  "resolve":{"scale":{"x":"independent","y":"independent"},"axis":{"x":"independent","y":"independent"}}
 }
],"spacing":56,"resolve":{"scale":{"color":"independent"},"legend":{"color":"independent"}}},
{"hconcat":[
 {"width":248,"height":94,
  "layer":[
   {"layer":[
     {"data":{"name":"b1"},"transform":[{"flatten":["v"]},{"window":[{"op":"row_number","as":"n"}],"groupby":["t"]},{"lookup":"n","from":{"data":{"name":"names"},"key":"n","fields":["name"]}}],
      "mark":{"type":"line","strokeWidth":0.9,"interpolate":"catmull-rom","clip":true},
      "encoding":{"x":{"field":"t","type":"quantitative","scale":{"domain":[0,100],"nice":false,"zero":false},"axis":{"orient":"bottom","values":[0,10,20,30,40,50,60,70,80,90,100],"labelOverlap":false,"title":"Time(s)"}},
       "y":{"field":"v","type":"quantitative","scale":{"domain":[-30,30],"nice":false,"zero":false},"axis":{"orient":"left","values":[-30,-20,-10,0,10,20,30],"labelOverlap":false,"title":null}},
       "color":{"field":"name","type":"nominal","scale":{"domain":["i=1,1","i=1,2","i=2,1","i=2,2","i=3,1","i=3,2","i=4,1","i=4,2","i=5,1","i=5,2","i=6,1","i=6,2"],"range":["#0000ff","#008000","#ff0000","#00bfbf","#bf00bf","#bfbf00","#404040","#0000ff","#008000","#ff0000","#00bfbf","#bf00bf"]},
        "legend":{"orient":"none","legendX":257,"legendY":-16,"title":null,"symbolType":"M-2.875,0H2.875","symbolSize":64,"symbolStrokeWidth":1.5,"symbolOffset":7.5,"labelFont":"Liberation Sans","labelFontSize":7,"labelColor":"#1a1a1a","labelOffset":11.5,"rowPadding":1.8,"padding":4,"strokeColor":"#808080","fillColor":"white"}}}},
     {"data":{"values":[{}]},"mark":{"type":"text","font":"Liberation Serif","fontSize":9,"fontWeight":"bold","color":"#111"},"encoding":{
       "x":{"datum":49.4,"type":"quantitative","scale":{"domain":[0,100],"nice":false,"zero":false},"axis":{"orient":"bottom","values":[0,10,20,30,40,50,60,70,80,90,100],"labelOverlap":false,"title":"Time(s)"}},
       "y":{"datum":26.8,"type":"quantitative","scale":{"domain":[-30,30],"nice":false,"zero":false},"axis":{"orient":"left","values":[-30,-20,-10,0,10,20,30],"labelOverlap":false,"title":null}},
       "text":{"value":"(b1)"}}}
   ]},
   {"layer":[
     {"data":{"values":[{}]},"mark":{"type":"rect","fill":"white","stroke":"#808080","strokeWidth":0.8},"encoding":{
       "x":{"datum":50,"type":"quantitative","scale":{"domain":[50,80],"range":[142,243],"nice":false,"zero":false},"axis":{"orient":"bottom","offset":-18,"values":[50,60,70,80],"labelOverlap":false,"title":null}},"x2":{"datum":80},
       "y":{"datum":-4,"type":"quantitative","scale":{"domain":[-4,4],"range":[76,16],"nice":false,"zero":false},"axis":{"orient":"left","offset":-142,"values":[-4,-2,0,2,4],"labelOverlap":false,"title":null}},"y2":{"datum":4}}},
     {"data":{"name":"b1"},"transform":[{"filter":{"field":"t","range":[50,80]}},{"flatten":["v"]},{"window":[{"op":"row_number","as":"n"}],"groupby":["t"]},{"lookup":"n","from":{"data":{"name":"names"},"key":"n","fields":["name"]}}],
      "mark":{"type":"line","strokeWidth":2.8,"interpolate":"catmull-rom"},
      "encoding":{"x":{"field":"t","type":"quantitative","scale":{"domain":[50,80],"range":[142,243],"nice":false,"zero":false},"axis":{"orient":"bottom","offset":-18,"values":[50,60,70,80],"labelOverlap":false,"title":null}},
       "y":{"field":"v","type":"quantitative","scale":{"domain":[-4,4],"range":[76,16],"nice":false,"zero":false},"axis":{"orient":"left","offset":-142,"values":[-4,-2,0,2,4],"labelOverlap":false,"title":null}},
       "color":{"field":"name","type":"nominal","scale":{"domain":["i=1,1","i=1,2","i=2,1","i=2,2","i=3,1","i=3,2","i=4,1","i=4,2","i=5,1","i=5,2","i=6,1","i=6,2"],"range":["#0000ff","#008000","#ff0000","#00bfbf","#bf00bf","#bfbf00","#404040","#0000ff","#008000","#ff0000","#00bfbf","#bf00bf"]}}}}
   ]}
  ],
  "resolve":{"scale":{"x":"independent","y":"independent"},"axis":{"x":"independent","y":"independent"}}
 },
 {"width":248,"height":95,
  "layer":[
   {"layer":[
     {"data":{"name":"b2"},"transform":[{"flatten":["v"]},{"window":[{"op":"row_number","as":"n"}],"groupby":["t"]},{"lookup":"n","from":{"data":{"name":"names"},"key":"n","fields":["name"]}}],
      "mark":{"type":"line","strokeWidth":0.9,"interpolate":"catmull-rom","clip":true},
      "encoding":{"x":{"field":"t","type":"quantitative","scale":{"domain":[0,100],"nice":false,"zero":false},"axis":{"orient":"bottom","values":[0,10,20,30,40,50,60,70,80,90,100],"labelOverlap":false,"title":"Time(s)"}},
       "y":{"field":"v","type":"quantitative","scale":{"domain":[-40,40],"nice":false,"zero":false},"axis":{"orient":"left","values":[-40,-20,0,20,40],"labelOverlap":false,"title":null}},
       "color":{"field":"name","type":"nominal","scale":{"domain":["i=1,1","i=1,2","i=2,1","i=2,2","i=3,1","i=3,2","i=4,1","i=4,2","i=5,1","i=5,2","i=6,1","i=6,2"],"range":["#0000ff","#008000","#ff0000","#00bfbf","#bf00bf","#bfbf00","#404040","#0000ff","#008000","#ff0000","#00bfbf","#bf00bf"]},"legend":null}}},
     {"data":{"values":[{}]},"mark":{"type":"text","font":"Liberation Serif","fontSize":9,"fontWeight":"bold","color":"#111"},"encoding":{
       "x":{"datum":48.4,"type":"quantitative","scale":{"domain":[0,100],"nice":false,"zero":false},"axis":{"orient":"bottom","values":[0,10,20,30,40,50,60,70,80,90,100],"labelOverlap":false,"title":"Time(s)"}},
       "y":{"datum":32.4,"type":"quantitative","scale":{"domain":[-40,40],"nice":false,"zero":false},"axis":{"orient":"left","values":[-40,-20,0,20,40],"labelOverlap":false,"title":null}},
       "text":{"value":"(b2)"}}}
   ]},
   {"layer":[
     {"data":{"values":[{}]},"mark":{"type":"rect","fill":"white","stroke":"#808080","strokeWidth":0.8},"encoding":{
       "x":{"datum":50,"type":"quantitative","scale":{"domain":[50,80],"range":[135,239],"nice":false,"zero":false},"axis":{"orient":"bottom","offset":-20,"values":[50,60,70,80],"labelOverlap":false,"title":null}},"x2":{"datum":80},
       "y":{"datum":-4,"type":"quantitative","scale":{"domain":[-4,4],"range":[75,15],"nice":false,"zero":false},"axis":{"orient":"left","offset":-135,"values":[-4,-2,0,2,4],"labelOverlap":false,"title":null}},"y2":{"datum":4}}},
     {"data":{"name":"b2"},"transform":[{"filter":{"field":"t","range":[50,80]}},{"flatten":["v"]},{"window":[{"op":"row_number","as":"n"}],"groupby":["t"]},{"lookup":"n","from":{"data":{"name":"names"},"key":"n","fields":["name"]}}],
      "mark":{"type":"line","strokeWidth":2.8,"interpolate":"catmull-rom"},
      "encoding":{"x":{"field":"t","type":"quantitative","scale":{"domain":[50,80],"range":[135,239],"nice":false,"zero":false},"axis":{"orient":"bottom","offset":-20,"values":[50,60,70,80],"labelOverlap":false,"title":null}},
       "y":{"field":"v","type":"quantitative","scale":{"domain":[-4,4],"range":[75,15],"nice":false,"zero":false},"axis":{"orient":"left","offset":-135,"values":[-4,-2,0,2,4],"labelOverlap":false,"title":null}},
       "color":{"field":"name","type":"nominal","scale":{"domain":["i=1,1","i=1,2","i=2,1","i=2,2","i=3,1","i=3,2","i=4,1","i=4,2","i=5,1","i=5,2","i=6,1","i=6,2"],"range":["#0000ff","#008000","#ff0000","#00bfbf","#bf00bf","#bfbf00","#404040","#0000ff","#008000","#ff0000","#00bfbf","#bf00bf"]},"legend":null}}}
   ]}
  ],
  "resolve":{"scale":{"x":"independent","y":"independent"},"axis":{"x":"independent","y":"independent"}}
 }
],"spacing":0,"resolve":{"scale":{"color":"independent"},"legend":{"color":"independent"}}},
{"hconcat":[
 {"width":248,"height":96,
  "layer":[
     {"data":{"name":"c1"},"transform":[{"flatten":["v"]},{"window":[{"op":"row_number","as":"n"}],"groupby":["t"]},{"lookup":"n","from":{"data":{"name":"names"},"key":"n","fields":["name"]}}],
      "mark":{"type":"line","strokeWidth":0.75,"clip":true},
      "encoding":{"x":{"field":"t","type":"quantitative","scale":{"domain":[0,100],"nice":false,"zero":false},"axis":{"orient":"bottom","values":[0,10,20,30,40,50,60,70,80,90,100],"labelOverlap":false,"title":"Time(s)"}},
       "y":{"field":"v","type":"quantitative","scale":{"domain":[-30,30],"nice":false,"zero":false},"axis":{"orient":"left","values":[-30,-20,-10,0,10,20,30],"labelOverlap":false,"title":null}},
       "color":{"field":"name","type":"nominal","scale":{"domain":["i=1,1","i=1,2","i=2,1","i=2,2","i=3,1","i=3,2","i=4,1","i=4,2","i=5,1","i=5,2","i=6,1","i=6,2"],"range":["#0000ff","#008000","#ff0000","#00bfbf","#bf00bf","#bfbf00","#404040","#0000ff","#008000","#ff0000","#00bfbf","#bf00bf"]},"legend":null}}},
     {"data":{"values":[{}]},"mark":{"type":"text","font":"Liberation Serif","fontSize":9,"fontWeight":"bold","color":"#111"},"encoding":{
       "x":{"datum":49.6,"type":"quantitative","scale":{"domain":[0,100],"nice":false,"zero":false},"axis":{"orient":"bottom","values":[0,10,20,30,40,50,60,70,80,90,100],"labelOverlap":false,"title":"Time(s)"}},
       "y":{"datum":25,"type":"quantitative","scale":{"domain":[-30,30],"nice":false,"zero":false},"axis":{"orient":"left","values":[-30,-20,-10,0,10,20,30],"labelOverlap":false,"title":null}},
       "text":{"value":"(c1)"}}}
  ]
 },
 {"width":248,"height":96,
  "layer":[
     {"data":{"name":"c2"},"transform":[{"flatten":["v"]},{"window":[{"op":"row_number","as":"n"}],"groupby":["t"]},{"lookup":"n","from":{"data":{"name":"names"},"key":"n","fields":["name"]}}],
      "mark":{"type":"line","strokeWidth":0.7,"clip":true},
      "encoding":{"x":{"field":"t","type":"quantitative","scale":{"domain":[0,100],"nice":false,"zero":false},"axis":{"orient":"bottom","values":[0,10,20,30,40,50,60,70,80,90,100],"labelOverlap":false,"title":"Time(s)"}},
       "y":{"field":"v","type":"quantitative","scale":{"domain":[-60,60],"nice":false,"zero":false},"axis":{"orient":"left","values":[-60,-40,-20,0,20,40,60],"labelOverlap":false,"title":null}},
       "color":{"field":"name","type":"nominal","scale":{"domain":["i=1,1","i=1,2","i=2,1","i=2,2","i=3,1","i=3,2","i=4,1","i=4,2","i=5,1","i=5,2","i=6,1","i=6,2"],"range":["#0000ff","#008000","#ff0000","#00bfbf","#bf00bf","#bfbf00","#404040","#0000ff","#008000","#ff0000","#00bfbf","#bf00bf"]},"legend":null}}},
     {"data":{"values":[{}]},"mark":{"type":"text","font":"Liberation Serif","fontSize":9,"fontWeight":"bold","color":"#111"},"encoding":{
       "x":{"datum":50,"type":"quantitative","scale":{"domain":[0,100],"nice":false,"zero":false},"axis":{"orient":"bottom","values":[0,10,20,30,40,50,60,70,80,90,100],"labelOverlap":false,"title":"Time(s)"}},
       "y":{"datum":50,"type":"quantitative","scale":{"domain":[-60,60],"nice":false,"zero":false},"axis":{"orient":"left","values":[-60,-40,-20,0,20,40,60],"labelOverlap":false,"title":null}},
       "text":{"value":"(c2)"}}}
  ]
 }
],"spacing":56,"resolve":{"scale":{"color":"independent"},"legend":{"color":"independent"}}}
]
}
